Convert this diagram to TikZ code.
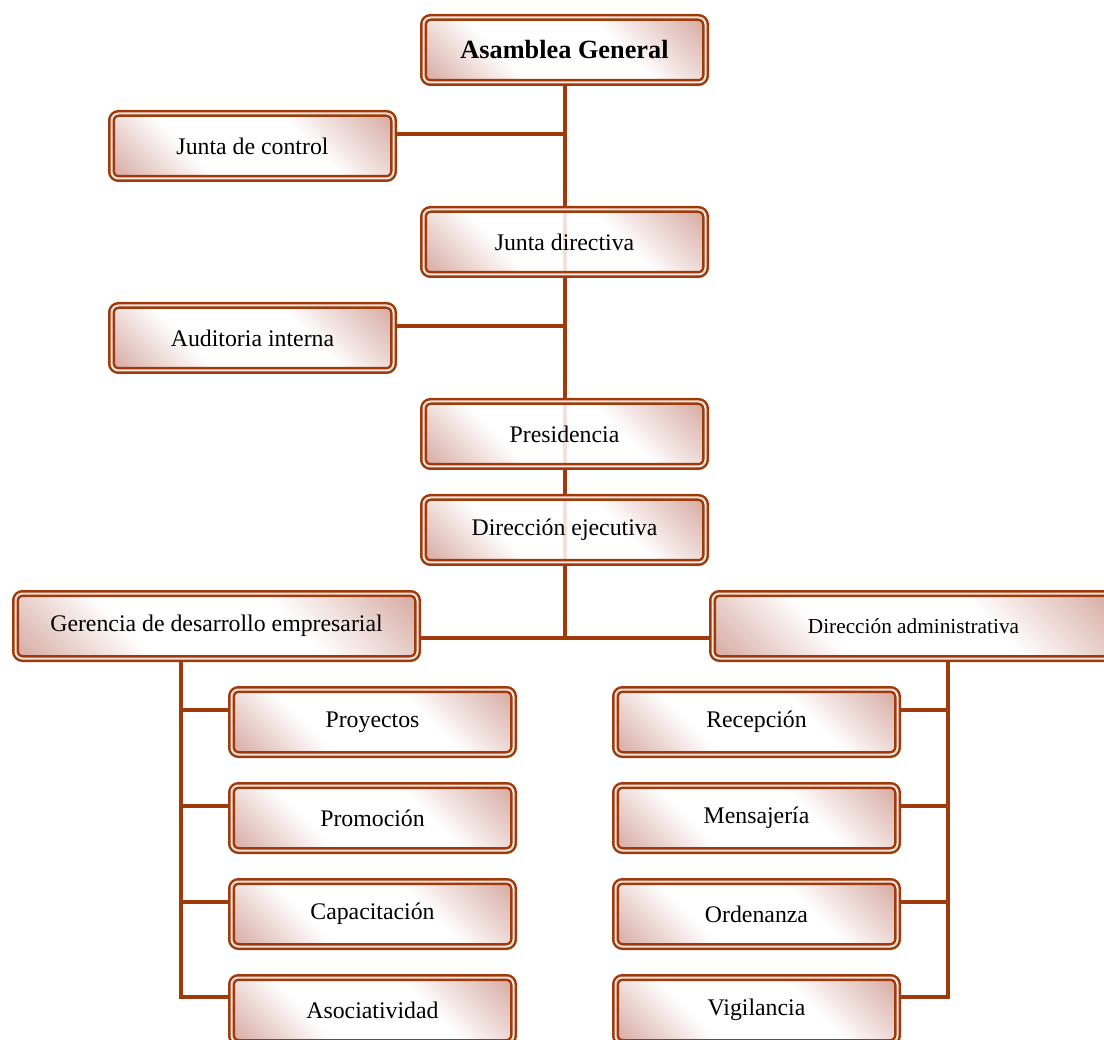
\documentclass[tikz,border=0pt]{standalone}
\usepackage{fontspec}
\setmainfont{Liberation Serif}
\usetikzlibrary{backgrounds}

\definecolor{rust}{RGB}{160,58,10}
\definecolor{shdark}{RGB}{158,66,52}
\definecolor{shmid}{RGB}{205,150,140}
\pgfdeclareverticalshading{boxshade}{100bp}{%
  color(0bp)=(shdark); color(14bp)=(shmid); color(36bp)=(white);
  color(62bp)=(white); color(86bp)=(shmid); color(100bp)=(shdark)}

\begin{document}
\begin{tikzpicture}[x=1pt,y=-1pt,
  orgbox/.style={rectangle, rounded corners=7pt, draw=rust,
    double=rust!12!white, line width=2.5pt, double distance=2pt,
    shading=boxshade, shading angle=-45, fill opacity=0.85, text opacity=1,
    minimum width=282pt, minimum height=65pt, inner sep=0pt,
    font=\fontsize{23.8}{28}\selectfont},
  widebox/.style={orgbox, minimum width=402pt},
  link/.style={draw=rust, line width=4pt, line join=miter}]

\useasboundingbox (0,0) rectangle (1104,1040);
\clip (0,0) rectangle (1104,1040);

% governing bodies
\node[orgbox, font=\fontsize{26.3}{30}\selectfont\bfseries] (asamblea) at (564.5,50) {Asamblea General};
\node[orgbox] (jcontrol) at (252.5,146) {Junta de control};
\node[orgbox] (jdirectiva) at (564.5,242) {Junta directiva};
\node[orgbox] (auditoria) at (252.5,338) {Auditoria interna};
\node[orgbox] (presidencia) at (564.5,434) {Presidencia};
\node[orgbox] (dejecutiva) at (564.5,530) {Dirección ejecutiva};

% two main branches
\node[widebox] (gerencia) at (216.5,626) {Gerencia de desarrollo empresarial};
\node[widebox, font=\fontsize{21.3}{26}\selectfont] (dadmin) at (913.5,626) {Dirección administrativa};

% units under each branch
\node[orgbox] (proyectos) at (372.5,722) {Proyectos};
\node[orgbox] (promocion) at (372.5,818) {Promoción};
\node[orgbox] (capacitacion) at (372.5,914) {Capacitación};
\node[orgbox] (asociatividad) at (372.5,1010) {Asociatividad};
\node[orgbox] (recepcion) at (756.5,722) {Recepción};
\node[orgbox] (mensajeria) at (756.5,818) {Mensajería};
\node[orgbox] (ordenanza) at (756.5,914) {Ordenanza};
\node[orgbox] (vigilancia) at (756.5,1010) {Vigilancia};

\begin{scope}[on background layer]
  \coordinate (hub) at (564.5,638);
  \coordinate (ltop) at (181,659);
  \coordinate (rtop) at (948,659);

  % main trunk
  \draw[link] (asamblea.south) -- (hub);
  \path ([yshift=12pt]jcontrol.east) coordinate (jc);
  \draw[link] (jc) -- (jc -| hub);
  \path ([yshift=12pt]auditoria.east) coordinate (au);
  \draw[link] (au) -- (au -| hub);
  \draw[link] ([yshift=-12pt]gerencia.east) -- ([yshift=-12pt]dadmin.west);

  % left column
  \draw[link] (ltop) |- ([yshift=13pt]asociatividad.west);
  \foreach \n in {proyectos,promocion,capacitacion}{
    \path ([yshift=12pt]\n.west) coordinate (p);
    \draw[link] (p) -- (p -| ltop);
  }

  % right column
  \draw[link] (rtop) |- ([yshift=13pt]vigilancia.east);
  \foreach \n in {recepcion,mensajeria,ordenanza}{
    \path ([yshift=12pt]\n.east) coordinate (p);
    \draw[link] (p) -- (p -| rtop);
  }
\end{scope}
\end{tikzpicture}
\end{document}
